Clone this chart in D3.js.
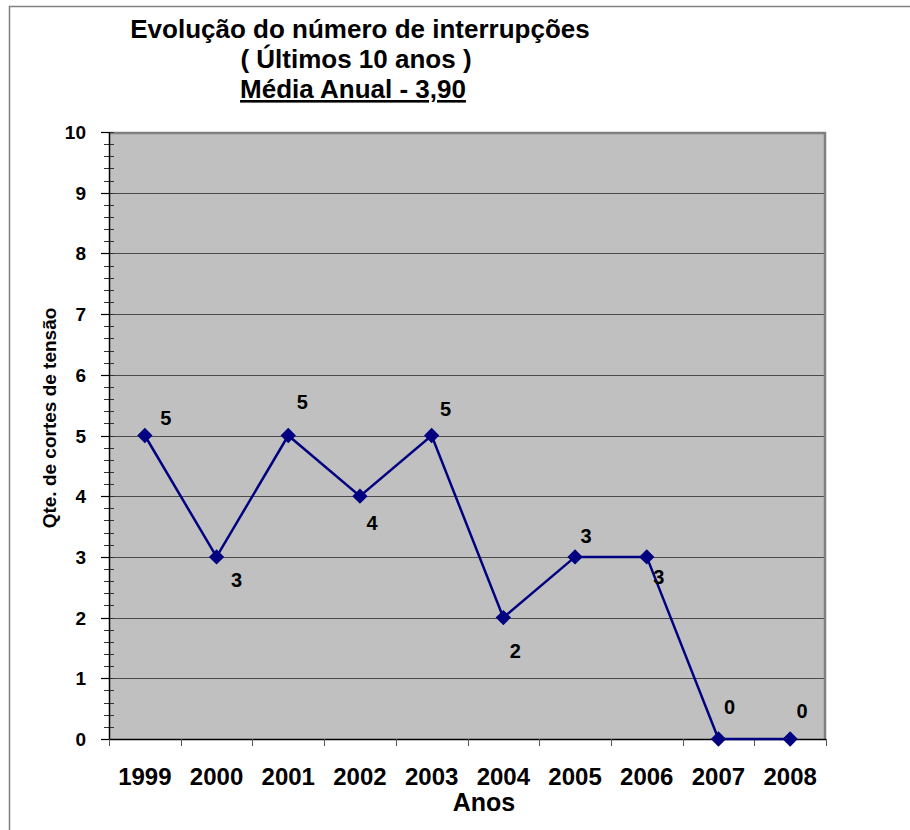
<!DOCTYPE html>
<html>
<head>
<meta charset="utf-8">
<script src="https://cdn.jsdelivr.net/npm/d3@7"></script>
<style>
  body { margin: 0; background: #fff; }
  text { font-family: Arial, "Liberation Sans", sans-serif; font-weight: bold; fill: #000; }
</style>
</head>
<body>
<script>
var years = ["1999", "2000", "2001", "2002", "2003", "2004", "2005", "2006", "2007", "2008"];
var cuts = [5, 3, 5, 4, 5, 2, 3, 3, 0, 0];
var yTicks = [0, 1, 2, 3, 4, 5, 6, 7, 8, 9, 10];
var titleLines = ["Evolução do número de interrupções", "( Últimos 10 anos )", "Média Anual - 3,90"];
// label nudges, as placed in the original sheet
var labelOffsets = [[21, -18], [20, 23], [14, -34], [12, 27], [14, -27], [12, 33], [11, -21], [12, 20], [11, -32], [12, -28]];

var W = 910, H = 830;
var pLeft = 109, pRight = 826, pTop = 132, pBottom = 739;

var svg = d3.select("body").append("svg")
    .attr("width", W)
    .attr("height", H);

// outer frame
svg.append("path")
    .attr("d", "M9.5,830 V6.5 H910")
    .attr("fill", "none")
    .attr("stroke", "#808080")
    .attr("stroke-width", 1.5);

var x = d3.scaleBand().domain(years).range([pLeft, pRight]);
var y = d3.scaleLinear().domain([0, 10]).range([pBottom, pTop]);

// plot area
svg.append("rect")
    .attr("x", pLeft).attr("y", pTop)
    .attr("width", pRight - pLeft).attr("height", pBottom - pTop)
    .attr("fill", "#c0c0c0");

svg.selectAll("line.grid")
    .data(yTicks.slice(1, -1))
    .enter().append("line")
    .attr("class", "grid")
    .attr("x1", pLeft).attr("x2", pRight)
    .attr("y1", function(d){return Math.round(y(d)) + 0.5;})
    .attr("y2", function(d){return Math.round(y(d)) + 0.5;})
    .attr("stroke", "#4a4a4a")
    .attr("stroke-width", 1);

svg.append("path")
    .attr("d", "M" + pLeft + "," + (pTop + 1) + " H" + (pRight - 1) + " V" + pBottom)
    .attr("fill", "none")
    .attr("stroke", "#808080")
    .attr("stroke-width", 2.5);

// y axis
var yAxis = svg.append("g");
yAxis.selectAll("line.minor")
    .data(d3.range(0, 10.01, 0.2))
    .enter().append("line")
    .attr("x1", pLeft - 5).attr("x2", pLeft + 5)
    .attr("y1", function(d){return Math.round(y(d)) + 0.5;})
    .attr("y2", function(d){return Math.round(y(d)) + 0.5;})
    .attr("stroke", "#333").attr("stroke-width", 1);
yAxis.selectAll("line.major")
    .data(yTicks)
    .enter().append("line")
    .attr("x1", pLeft - 8).attr("x2", pLeft)
    .attr("y1", function(d){return Math.round(y(d)) + 0.5;})
    .attr("y2", function(d){return Math.round(y(d)) + 0.5;})
    .attr("stroke", "#000").attr("stroke-width", 1.2);
yAxis.append("line")
    .attr("x1", pLeft + 0.5).attr("x2", pLeft + 0.5)
    .attr("y1", pTop).attr("y2", pBottom + 1)
    .attr("stroke", "#000").attr("stroke-width", 1.5);
yAxis.selectAll("text")
    .data(yTicks)
    .enter().append("text")
    .attr("x", 86)
    .attr("y", function(d){return y(d) + 7;})
    .attr("text-anchor", "end")
    .attr("font-size", 19)
    .text(function(d){return d;});

// x axis
var xAxis = svg.append("g");
xAxis.append("line")
    .attr("x1", pLeft).attr("x2", pRight)
    .attr("y1", pBottom + 0.5).attr("y2", pBottom + 0.5)
    .attr("stroke", "#000").attr("stroke-width", 1.5);
xAxis.selectAll("line.tick")
    .data(years.concat(["end"]))
    .enter().append("line")
    .attr("x1", function(d, i){return Math.round(pLeft + i * x.bandwidth()) + 0.5;})
    .attr("x2", function(d, i){return Math.round(pLeft + i * x.bandwidth()) + 0.5;})
    .attr("y1", pBottom).attr("y2", pBottom + 7)
    .attr("stroke", "#555").attr("stroke-width", 1);
xAxis.selectAll("text")
    .data(years)
    .enter().append("text")
    .attr("x", function(d){return x(d) + x.bandwidth() / 2;})
    .attr("y", 785)
    .attr("text-anchor", "middle")
    .attr("font-size", 24)
    .text(function(d){return d;});

svg.append("text")
    .attr("x", 484).attr("y", 811)
    .attr("text-anchor", "middle")
    .attr("font-size", 25)
    .text("Anos");

svg.append("text")
    .attr("transform", "translate(56,418) rotate(-90)")
    .attr("text-anchor", "middle")
    .attr("font-size", 19)
    .text("Qte. de cortes de tensão");

// series
var line = d3.line()
    .x(function(d, i){return x(years[i]) + x.bandwidth() / 2;})
    .y(function(d){return y(d);});

svg.append("path")
    .datum(cuts)
    .attr("d", line)
    .attr("fill", "none")
    .attr("stroke", "#000080")
    .attr("stroke-width", 2.5);

svg.selectAll("path.marker")
    .data(cuts)
    .enter().append("path")
    .attr("class", "marker")
    .attr("d", d3.symbol().type(d3.symbolDiamond2).size(150))
    .attr("transform", function(d, i){
        return "translate(" + (x(years[i]) + x.bandwidth() / 2) + "," + y(d) + ")";})
    .attr("fill", "#000080");

svg.selectAll("text.label")
    .data(cuts)
    .enter().append("text")
    .attr("class", "label")
    .attr("x", function(d, i){return x(years[i]) + x.bandwidth() / 2 + labelOffsets[i][0];})
    .attr("y", function(d, i){return y(d) + labelOffsets[i][1] + 7;})
    .attr("text-anchor", "middle")
    .attr("font-size", 20)
    .text(function(d){return d;});

// title
var title = svg.append("g");
var titleX = [360, 356, 353];
title.selectAll("text")
    .data(titleLines)
    .enter().append("text")
    .attr("x", function(d, i){return titleX[i];})
    .attr("y", function(d, i){return 38 + i * 30;})
    .attr("text-anchor", "middle")
    .attr("font-size", 26)
    .attr("text-decoration", function(d, i){return i == 2 ? "underline" : null;})
    .text(function(d){return d;});
</script>
</body>
</html>
